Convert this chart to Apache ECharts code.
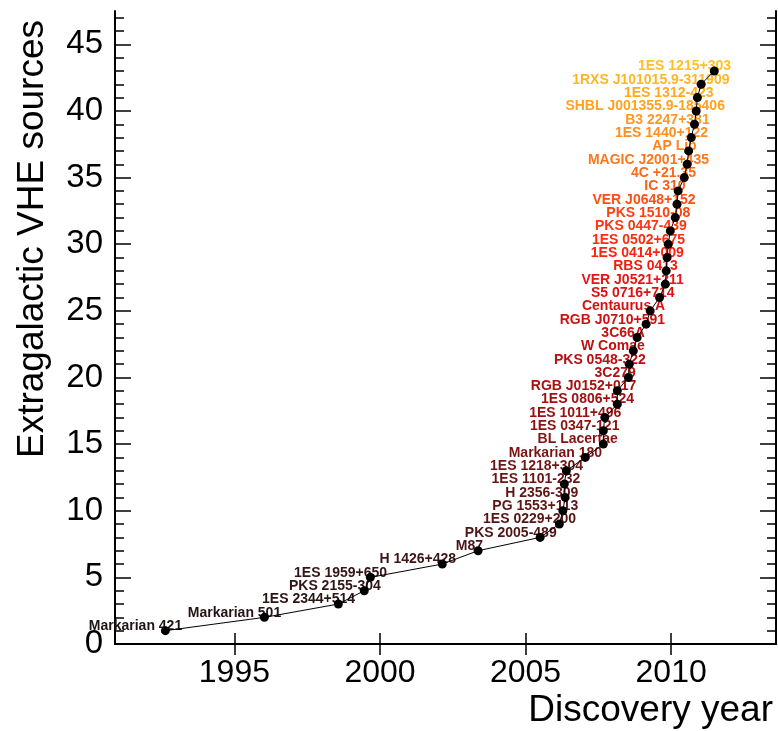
<!DOCTYPE html>
<html>
<head>
<meta charset="utf-8">
<script src="https://cdn.jsdelivr.net/npm/echarts@6/dist/echarts.min.js"></script>
<style>html,body{margin:0;padding:0;background:#fff}#c{width:778px;height:731px}</style>
</head>
<body>
<div id="c"></div>
<script>
const sourceNames = ["Markarian 421","Markarian 501","1ES 2344+514","PKS 2155-304","1ES 1959+650","H 1426+428","M87","PKS 2005-489","1ES 0229+200","PG 1553+113","H 2356-309","1ES 1101-232","1ES 1218+304","Markarian 180","BL Lacertae","1ES 0347-121","1ES 1011+496","1ES 0806+524","RGB J0152+017","3C279","PKS 0548-322","W Comae","3C66A","RGB J0710+591","Centaurus A","S5 0716+714","VER J0521+211","RBS 0413","1ES 0414+009","1ES 0502+675","PKS 0447-439","PKS 1510-08","VER J0648+152","IC 310","4C +21.35","MAGIC J2001+435","AP Lib","1ES 1440+122","B3 2247+381","SHBL J001355.9-185406","1ES 1312-423","1RXS J101015.9-311909","1ES 1215+303"];
const discoveryYears = [1992.63,1996.03,1998.57,1999.46,1999.67,2002.14,2003.37,2005.5,2006.16,2006.28,2006.36,2006.33,2006.4,2007.05,2007.67,2007.67,2007.72,2008.15,2008.15,2008.53,2008.56,2008.7,2008.83,2009.14,2009.28,2009.6,2009.8,2009.83,2009.86,2009.9,2009.97,2010.14,2010.2,2010.24,2010.45,2010.55,2010.6,2010.69,2010.8,2010.86,2010.9,2011.03,2011.48];
const sourceCounts = [1,2,3,4,5,6,7,8,9,10,11,12,13,14,15,16,17,18,19,20,21,22,23,24,25,26,27,28,29,30,31,32,33,34,35,36,37,38,39,40,41,42,43];
const xTickValues = [1995,2000,2005,2010];
const yTickValues = [0,5,10,15,20,25,30,35,40,45];

const yMinor = [];
for (let v = 1; v <= 47; v++) if (v % 5) yMinor.push(v);

const colorStops = [[0,'#1e1414'],[4,'#351515'],[7,'#501515'],[12,'#701515'],[16,'#981010'],[21,'#c01010'],[25,'#e01010'],[28,'#ff2010'],[31,'#ff4010'],[34,'#ff6a18'],[37,'#ff9020'],[40,'#ffaa22'],[42,'#ffc125']];
function hex(c){return [parseInt(c.slice(1,3),16),parseInt(c.slice(3,5),16),parseInt(c.slice(5,7),16)];}
function colorAt(i){
  for (let k=0;k<colorStops.length-1;k++){
    const [a,ca]=colorStops[k],[b,cb]=colorStops[k+1];
    if (i>=a && i<=b){
      const t=(i-a)/(b-a), A=hex(ca), B=hex(cb);
      return 'rgb('+A.map((v,j)=>Math.round(v+(B[j]-v)*t)).join(',')+')';
    }
  }
  return colorStops[colorStops.length-1][1];
}
const LABEL_SIZE = 14;
const LABEL_FONT = 'bold ' + LABEL_SIZE + 'px "Liberation Sans", Arial, sans-serif';
const ctx = document.createElement('canvas').getContext('2d');
ctx.font = LABEL_FONT;

const labelData = sourceNames.map((n,i)=>{
  const w = ctx.measureText(n).width;
  return {
    value:[discoveryYears[i], sourceCounts[i]],
    name:n,
    label:{show:true, formatter:n, color:colorAt(i), position:'inside', align:'right', verticalAlign:'middle',
      offset:[0.18*w, -4.5], fontFamily:'"Liberation Sans", Arial, sans-serif', fontWeight:'bold', fontSize:LABEL_SIZE, textBorderWidth:0, opacity:1}
  };
});
const pointData = discoveryYears.map((y,i)=>[y, sourceCounts[i]]);

const axisLine = {show:true, lineStyle:{color:'#000', width:2}};
const tickStyle = {color:'#000', width:1.5};
const FONT = '"Liberation Sans", Arial, sans-serif';

const chart = echarts.init(document.getElementById('c'), null, {renderer:'canvas'});
chart.setOption({
  animation:false,
  backgroundColor:'#fff',
  grid:{left:115, right:2, top:11, bottom:87, containLabel:false},
  xAxis:[
    {type:'value', position:'bottom', min:1990.9, max:2013.6, axisLine,
     axisTick:{show:true, inside:true, length:11, lineStyle:tickStyle, customValues:xTickValues},
     axisLabel:{show:true, customValues:xTickValues, formatter:v=>String(v), color:'#000', fontSize:32, fontFamily:FONT, margin:13},
     splitLine:{show:false}},
    {type:'value', position:'top', min:1990.9, max:2013.6, axisLine,
     axisTick:{show:true, inside:true, length:11, lineStyle:tickStyle, customValues:xTickValues},
     axisLabel:{show:false}, splitLine:{show:false}}
  ],
  yAxis:[
    {type:'value', position:'left', min:0, max:47.5, axisLine,
     axisTick:{show:true, inside:true, length:16, lineStyle:tickStyle, customValues:yTickValues},
     axisLabel:{show:true, customValues:yTickValues, color:'#000', fontSize:33, fontFamily:FONT, margin:12, padding:[5,0,0,0]},
     splitLine:{show:false}},
    {type:'value', position:'left', min:0, max:47.5, axisLine:{show:false},
     axisTick:{show:true, inside:true, length:9, lineStyle:tickStyle, customValues:yMinor},
     axisLabel:{show:false}, splitLine:{show:false}},
    {type:'value', position:'right', min:0, max:47.5, axisLine,
     axisTick:{show:true, inside:true, length:16, lineStyle:tickStyle, customValues:yTickValues},
     axisLabel:{show:false}, splitLine:{show:false}},
    {type:'value', position:'right', min:0, max:47.5, axisLine:{show:false},
     axisTick:{show:true, inside:true, length:9, lineStyle:tickStyle, customValues:yMinor},
     axisLabel:{show:false}, splitLine:{show:false}}
  ],
  graphic:[
    {type:'text', x:33, y:20, rotation:Math.PI/2, style:{text:'Extragalactic VHE sources', font:'37px "Liberation Sans", Arial, sans-serif', fill:'#000', align:'right', verticalAlign:'middle'}},
    {type:'text', x:773, y:711, style:{text:'Discovery year', font:'37px "Liberation Sans", Arial, sans-serif', fill:'#000', align:'right', verticalAlign:'middle'}}
  ],
  series:[
    {type:'scatter', xAxisIndex:0, yAxisIndex:0, z:1, symbolSize:1, itemStyle:{color:'rgba(0,0,0,0)', opacity:1}, data:labelData, silent:true},
    {type:'line', xAxisIndex:0, yAxisIndex:0, z:3, data:pointData, symbol:'circle', symbolSize:9, showSymbol:true,
     itemStyle:{color:'#000'}, lineStyle:{color:'#000', width:1}}
  ]
});
</script>
</body>
</html>
